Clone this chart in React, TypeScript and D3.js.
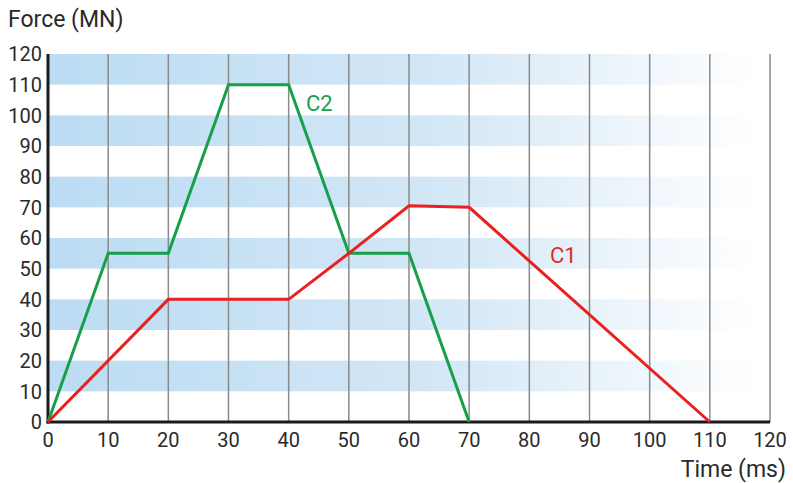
import React from "react";
import * as d3 from "d3";

const timeTicks = [0, 10, 20, 30, 40, 50, 60, 70, 80, 90, 100, 110, 120];
const forceTicks = [0, 10, 20, 30, 40, 50, 60, 70, 80, 90, 100, 110, 120];
const bandStarts = [10, 30, 50, 70, 90, 110];

const c2Time = [0, 10, 20, 30, 40, 50, 60, 70];
const c2Force = [0, 55, 55, 110, 110, 55, 55, 0];
const c1Time = [0, 20, 40, 50, 60, 70, 110];
const c1Force = [0, 40, 40, 55, 70.5, 70, 0];

const W = 793;
const H = 483;
const FONT = "Roboto, 'Noto Sans', sans-serif";

export default function App() {
  const x = d3.scaleLinear().domain([0, 120]).range([48, 770]);
  const y = d3.scaleLinear().domain([0, 120]).range([422, 54]);
  const line = d3
    .line<[number, number]>()
    .x((d) => x(d[0]))
    .y((d) => y(d[1]));
  const c2 = c2Time.map((t, i) => [t, c2Force[i]] as [number, number]);
  const c1 = c1Time.map((t, i) => [t, c1Force[i]] as [number, number]);

  return (
    <svg
      width={W}
      height={H}
      style={{ position: "absolute", left: 0, top: 0, background: "#fff" }}
    >
      <defs>
        <linearGradient id="band" x1="0" x2="1" y1="0" y2="0">
          <stop offset="0" stopColor="#bcdcf3" />
          <stop offset="0.55" stopColor="#d3e7f6" />
          <stop offset="1" stopColor="#ffffff" />
        </linearGradient>
      </defs>
      {bandStarts.map((b) => (
        <rect
          key={b}
          x={x(0)}
          y={y(b + 10)}
          width={758 - x(0)}
          height={y(b) - y(b + 10)}
          fill="url(#band)"
        />
      ))}
      {timeTicks
        .filter((t) => t > 0)
        .map((t) => (
          <line
            key={t}
            x1={x(t)}
            x2={x(t)}
            y1={y(120)}
            y2={y(0)}
            stroke="#8a8a8a"
            strokeWidth={1.5}
          />
        ))}
      <line x1={x(0)} x2={x(0)} y1={y(120)} y2={y(0) + 1.5} stroke="#1a1a1a" strokeWidth={3} />
      <line x1={x(0) - 1.5} x2={x(120)} y1={y(0)} y2={y(0)} stroke="#1a1a1a" strokeWidth={3} />
      <path d={line(c2) || ""} fill="none" stroke="#16a04c" strokeWidth={3} strokeLinejoin="miter" />
      <path d={line(c1) || ""} fill="none" stroke="#ec1f1f" strokeWidth={3} strokeLinejoin="miter" />
      {forceTicks.map((f) => (
        <text
          key={f}
          x={42}
          y={y(f)}
          dy="0.36em"
          textAnchor="end"
          fontFamily={FONT}
          fontSize={20}
          fill="#2a2a2a"
        >
          {f}
        </text>
      ))}
      {timeTicks.map((t) => (
        <text
          key={t}
          x={x(t)}
          y={447}
          textAnchor="middle"
          fontFamily={FONT}
          fontSize={20}
          fill="#2a2a2a"
        >
          {t}
        </text>
      ))}
      <text x={8} y={27} fontFamily={FONT} fontSize={23} fill="#2a2a2a">
        Force (MN)
      </text>
      <text x={786} y={477} textAnchor="end" fontFamily={FONT} fontSize={23} fill="#2a2a2a">
        Time (ms)
      </text>
      <text x={306} y={111} fontFamily={FONT} fontSize={22} fill="#16a04c">
        C2
      </text>
      <text x={550} y={263} fontFamily={FONT} fontSize={22} fill="#e02a22">
        C1
      </text>
    </svg>
  );
}
